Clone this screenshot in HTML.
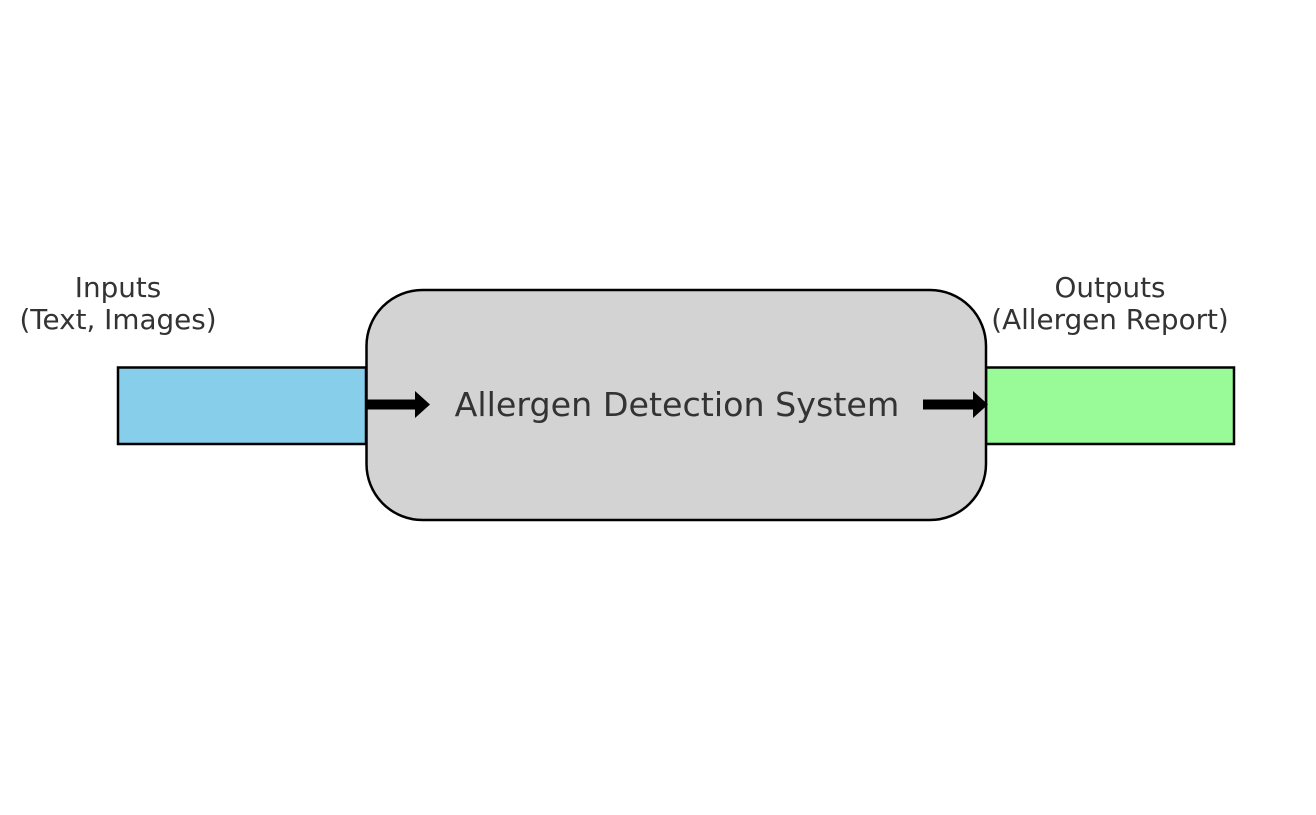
<!DOCTYPE html>
<html><head><meta charset="utf-8"><style>html,body{margin:0;padding:0;background:#fff}</style></head>
<body>
<svg width="1316" height="810" viewBox="0 0 1316 810" xmlns="http://www.w3.org/2000/svg" font-family="DejaVu Sans, Liberation Sans, sans-serif">
<rect x="118" y="367.5" width="248" height="76.5" fill="#87ceeb" stroke="#000" stroke-width="2.5"/>
<rect x="986" y="367.5" width="248" height="76.5" fill="#98fb98" stroke="#000" stroke-width="2.5"/>
<rect x="366.5" y="290" width="619.5" height="230" rx="56" ry="56" fill="#d3d3d3" stroke="#000" stroke-width="2.5"/>
<polygon points="367,399.5 415,399.5 415,391 430,404.5 415,418 415,409.5 367,409.5" fill="#000"/>
<polygon points="923,399.5 973,399.5 973,391 988,404.5 973,418 973,409.5 923,409.5" fill="#000"/>
<text x="677" y="416" font-size="33.3" fill="#333" text-anchor="middle">Allergen Detection System</text>
<text x="118" y="297" font-size="27.8" fill="#333" text-anchor="middle">Inputs</text>
<text x="118" y="329" font-size="27.8" fill="#333" text-anchor="middle">(Text, Images)</text>
<text x="1110" y="297" font-size="27.8" fill="#333" text-anchor="middle">Outputs</text>
<text x="1110" y="329" font-size="27.8" fill="#333" text-anchor="middle">(Allergen Report)</text>
</svg>
</body></html>
